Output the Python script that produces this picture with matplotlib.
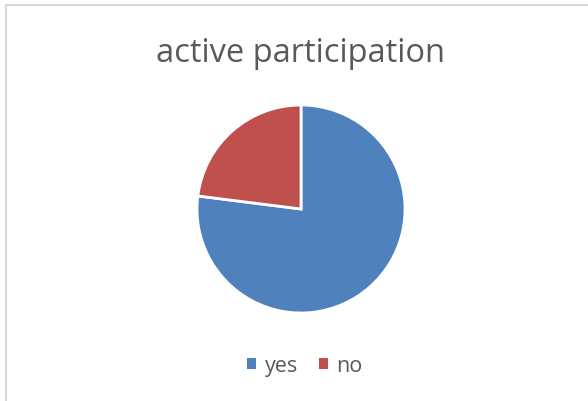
import matplotlib.pyplot as plt
from matplotlib.patches import Patch
from matplotlib.lines import Line2D

labels = ["yes", "no"]
values = [77, 23]
colors = ["#4F81BD", "#C0504D"]

plt.rcParams['font.family'] = ['Open Sans', 'DejaVu Sans']

fig = plt.figure(figsize=(5.88, 4.02), dpi=100)

# chart frame (left and top border visible)
fig.add_artist(Line2D([6 / 588, 6 / 588], [0, 1 - 6 / 402], transform=fig.transFigure,
                      color="#d9d9d9", lw=1.5))
fig.add_artist(Line2D([6 / 588, 1], [1 - 6 / 402, 1 - 6 / 402], transform=fig.transFigure,
                      color="#d9d9d9", lw=1.5))

fig.text(300 / 588, 1 - 53 / 402, "active participation", ha="center", va="center",
         fontsize=23.5, color="#595959")

r = 104
ax = fig.add_axes([(301 - r) / 588, (402 - 210 - r) / 402, 2 * r / 588, 2 * r / 402])
ax.pie(values, colors=colors, startangle=90, counterclock=False,
       wedgeprops=dict(edgecolor="white", linewidth=2))
ax.set_xlim(-1, 1)
ax.set_ylim(-1, 1)
ax.set_aspect("equal")

handles = [Patch(facecolor=c, label=l) for c, l in zip(colors, labels)]
fig.legend(handles=handles, loc="center", bbox_to_anchor=(305 / 588, 1 - 367 / 402), ncol=2,
           frameon=False, fontsize=15.5, handlelength=0.4, handleheight=0.4,
           handletextpad=0.4, columnspacing=1.0, labelcolor="#595959")

fig.savefig("out.png", dpi=100)
